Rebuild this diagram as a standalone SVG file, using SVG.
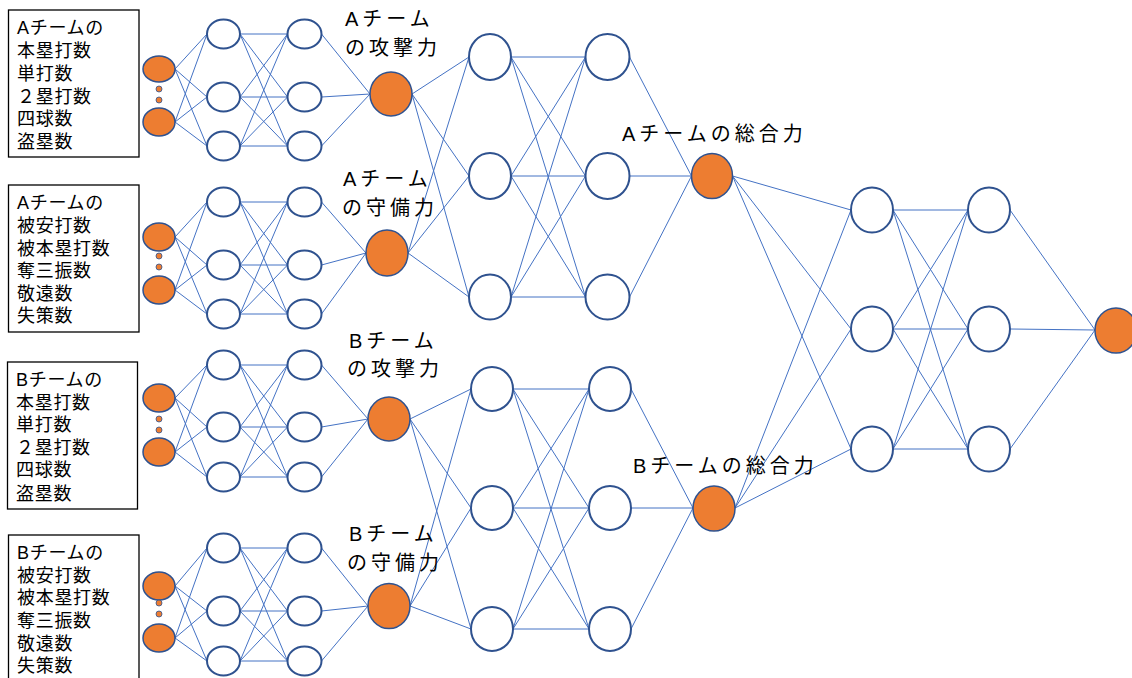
<svg xmlns="http://www.w3.org/2000/svg" width="1132" height="678" viewBox="0 0 1132 678">
<style>
.ln{fill:none;stroke:#4472C4;stroke-width:1}
.nd{fill:#fff;stroke:#2F528F;stroke-width:2}
.or{fill:#ED7D31;stroke:#2F528F;stroke-width:1.5}
.dot{fill:#ED7D31;stroke:#2F528F;stroke-width:0.8}
.box{fill:#fff;stroke:#000;stroke-width:1.3}
.bt{font-family:"Liberation Sans","Noto Sans CJK JP",sans-serif;font-size:18px;letter-spacing:0.7px;fill:#000}
.lb{font-family:"Liberation Sans","Noto Sans CJK JP",sans-serif;font-size:20px;letter-spacing:4px;fill:#000}
</style>
<rect width="1132" height="678" fill="#fff"/>
<g id="connectors">
<path class="ln" d="M175 69L207 34M175 69L207 97M175 69L207 146M175 122L207 34M175 122L207 97M175 122L207 146
M240 34L287.5 34M240 34L287.5 97M240 34L287.5 146M240 97L287.5 34M240 97L287.5 97M240 97L287.5 146M240 146L287.5 34M240 146L287.5 97M240 146L287.5 146
M321.5 34L370 94M321.5 97L370 94M321.5 146L370 94"/>
<path class="ln" d="M175 237L207 202M175 237L207 265M175 237L207 314M175 290L207 202M175 290L207 265M175 290L207 314
M240 202L287.5 202M240 202L287.5 265M240 202L287.5 314M240 265L287.5 202M240 265L287.5 265M240 265L287.5 314M240 314L287.5 202M240 314L287.5 265M240 314L287.5 314
M321.5 202L366 253M321.5 265L366 253M321.5 314L366 253"/>
<path class="ln" d="M175 398L207 365M175 398L207 427M175 398L207 477M175 452L207 365M175 452L207 427M175 452L207 477
M240 365L287.5 365M240 365L287.5 427M240 365L287.5 477M240 427L287.5 365M240 427L287.5 427M240 427L287.5 477M240 477L287.5 365M240 477L287.5 427M240 477L287.5 477
M321.5 365L368 419M321.5 427L368 419M321.5 477L368 419"/>
<path class="ln" d="M175 586L207 548M175 586L207 611M175 586L207 661M175 638L207 548M175 638L207 611M175 638L207 661
M240 548L287.5 548M240 548L287.5 611M240 548L287.5 661M240 611L287.5 548M240 611L287.5 611M240 611L287.5 661M240 661L287.5 548M240 661L287.5 611M240 661L287.5 661
M321.5 548L368 606M321.5 611L368 606M321.5 661L368 606"/>
<path class="ln" d="M412 94L469 57M412 94L469 176M412 94L469 297M408 253L469 57M408 253L469 176M408 253L469 297
M511 57L585.5 57M511 57L585.5 176M511 57L585.5 297M511 176L585.5 57M511 176L585.5 176M511 176L585.5 297M511 297L585.5 57M511 297L585.5 176M511 297L585.5 297
M629.5 57L691.5 176M629.5 176L691.5 176M629.5 297L691.5 176"/>
<path class="ln" d="M410 419L471 389M410 419L471 508M410 419L471 629M410 606L471 389M410 606L471 508M410 606L471 629
M513 389L589 389M513 389L589 508M513 389L589 629M513 508L589 389M513 508L589 508M513 508L589 629M513 629L589 389M513 629L589 508M513 629L589 629
M631 389L693 508M631 508L693 508M631 629L693 508"/>
<path class="ln" d="M732.5 176L851 210M732.5 176L851 329M732.5 176L851 449M735 508L851 210M735 508L851 329M735 508L851 449
M893 210L968 210M893 210L968 329M893 210L968 449M893 329L968 210M893 329L968 329M893 329L968 449M893 449L968 210M893 449L968 329M893 449L968 449
M1010 210L1095 330M1010 329L1095 330M1010 449L1095 330"/>
</g>
<g id="box-a-attack">
<rect class="box" x="8.5" y="10" width="130.5" height="147"/>
<text class="bt"><tspan x="17" y="33.5">Aチームの</tspan><tspan x="17" y="56.5">本塁打数</tspan><tspan x="17" y="79.5">単打数</tspan><tspan x="17" y="102.5">２塁打数</tspan><tspan x="17" y="125">四球数</tspan><tspan x="17" y="148">盗塁数</tspan></text>
</g>
<g id="box-a-defense">
<rect class="box" x="8.5" y="185" width="130.5" height="147"/>
<text class="bt"><tspan x="17" y="208.5">Aチームの</tspan><tspan x="17" y="231.5">被安打数</tspan><tspan x="17" y="254.5">被本塁打数</tspan><tspan x="17" y="277">奪三振数</tspan><tspan x="17" y="300">敬遠数</tspan><tspan x="17" y="322">失策数</tspan></text>
</g>
<g id="box-b-attack">
<rect class="box" x="7.5" y="362" width="130" height="147"/>
<text class="bt"><tspan x="16" y="385.5">Bチームの</tspan><tspan x="16" y="408.5">本塁打数</tspan><tspan x="16" y="430.5">単打数</tspan><tspan x="16" y="453.5">２塁打数</tspan><tspan x="16" y="475.5">四球数</tspan><tspan x="16" y="499.5">盗塁数</tspan></text>
</g>
<g id="box-b-defense">
<rect class="box" x="8.5" y="535" width="130.5" height="150"/>
<text class="bt"><tspan x="17" y="558.5">Bチームの</tspan><tspan x="17" y="581.5">被安打数</tspan><tspan x="17" y="603.5">被本塁打数</tspan><tspan x="17" y="626.5">奪三振数</tspan><tspan x="17" y="649.5">敬遠数</tspan><tspan x="17" y="671.5">失策数</tspan></text>
</g>
<g id="block-a-attack">
<ellipse class="or" cx="159" cy="69" rx="16" ry="13"/>
<ellipse class="or" cx="159" cy="122" rx="16" ry="14"/>
<circle class="dot" cx="159" cy="89" r="3"/><circle class="dot" cx="159" cy="100" r="3"/>
<ellipse class="nd" cx="223.5" cy="34" rx="16.5" ry="14.5"/>
<ellipse class="nd" cx="223.5" cy="97" rx="16.5" ry="14.5"/>
<ellipse class="nd" cx="223.5" cy="146" rx="16.5" ry="14.5"/>
<ellipse class="nd" cx="304.5" cy="34" rx="17" ry="14.5"/>
<ellipse class="nd" cx="304.5" cy="97" rx="17" ry="14.5"/>
<ellipse class="nd" cx="304.5" cy="146" rx="17" ry="14.5"/>
</g>
<g id="block-a-defense">
<ellipse class="or" cx="159" cy="237" rx="16" ry="14"/>
<ellipse class="or" cx="159" cy="290" rx="16" ry="14"/>
<circle class="dot" cx="159" cy="256" r="3"/><circle class="dot" cx="159" cy="267" r="3"/>
<ellipse class="nd" cx="223.5" cy="202" rx="16.5" ry="14.5"/>
<ellipse class="nd" cx="223.5" cy="265" rx="16.5" ry="14.5"/>
<ellipse class="nd" cx="223.5" cy="314" rx="16.5" ry="14.5"/>
<ellipse class="nd" cx="304.5" cy="202" rx="17" ry="14.5"/>
<ellipse class="nd" cx="304.5" cy="265" rx="17" ry="14.5"/>
<ellipse class="nd" cx="304.5" cy="314" rx="17" ry="14.5"/>
</g>
<g id="block-b-attack">
<ellipse class="or" cx="159" cy="398" rx="16" ry="14"/>
<ellipse class="or" cx="159" cy="452" rx="16" ry="14"/>
<circle class="dot" cx="159" cy="419" r="3"/><circle class="dot" cx="159" cy="430" r="3"/>
<ellipse class="nd" cx="223.5" cy="365" rx="16.5" ry="14.5"/>
<ellipse class="nd" cx="223.5" cy="427" rx="16.5" ry="14.5"/>
<ellipse class="nd" cx="223.5" cy="477" rx="16.5" ry="14.5"/>
<ellipse class="nd" cx="304.5" cy="365" rx="17" ry="14.5"/>
<ellipse class="nd" cx="304.5" cy="427" rx="17" ry="14.5"/>
<ellipse class="nd" cx="304.5" cy="477" rx="17" ry="14.5"/>
</g>
<g id="block-b-defense">
<ellipse class="or" cx="159" cy="586" rx="16" ry="14"/>
<ellipse class="or" cx="159" cy="638" rx="16" ry="14"/>
<circle class="dot" cx="159" cy="603" r="3"/><circle class="dot" cx="159" cy="614" r="3"/>
<ellipse class="nd" cx="223.5" cy="548" rx="16.5" ry="14.5"/>
<ellipse class="nd" cx="223.5" cy="611" rx="16.5" ry="14.5"/>
<ellipse class="nd" cx="223.5" cy="661" rx="16.5" ry="14.5"/>
<ellipse class="nd" cx="304.5" cy="548" rx="17" ry="14.5"/>
<ellipse class="nd" cx="304.5" cy="611" rx="17" ry="14.5"/>
<ellipse class="nd" cx="304.5" cy="661" rx="17" ry="14.5"/>
</g>
<g id="a-attack">
<ellipse class="or" cx="391" cy="94" rx="21" ry="22"/>
<text class="lb"><tspan x="345" y="25.5">Aチーム</tspan><tspan x="345" y="54.5">の攻撃力</tspan></text>
</g>
<g id="a-defense">
<ellipse class="or" cx="387" cy="253" rx="21" ry="23"/>
<text class="lb"><tspan x="343" y="185.5">Aチーム</tspan><tspan x="342" y="214.5">の守備力</tspan></text>
</g>
<g id="b-attack">
<ellipse class="or" cx="389" cy="419" rx="21" ry="22"/>
<text class="lb"><tspan x="349" y="347.5">Bチーム</tspan><tspan x="347" y="375.5">の攻撃力</tspan></text>
</g>
<g id="b-defense">
<ellipse class="or" cx="389" cy="606" rx="21" ry="22.5"/>
<text class="lb"><tspan x="349" y="540.5">Bチーム</tspan><tspan x="347" y="569.5">の守備力</tspan></text>
</g>
<g id="a-mid">
<ellipse class="nd" cx="490" cy="57" rx="21" ry="23"/>
<ellipse class="nd" cx="490" cy="176" rx="21" ry="23"/>
<ellipse class="nd" cx="490" cy="297" rx="21" ry="22.5"/>
<ellipse class="nd" cx="607.5" cy="57" rx="22" ry="23"/>
<ellipse class="nd" cx="607.5" cy="176" rx="22" ry="23"/>
<ellipse class="nd" cx="607.5" cy="297" rx="22" ry="22.5"/>
</g>
<g id="b-mid">
<ellipse class="nd" cx="492" cy="389" rx="21" ry="22"/>
<ellipse class="nd" cx="492" cy="508" rx="21" ry="22"/>
<ellipse class="nd" cx="492" cy="629" rx="21" ry="22"/>
<ellipse class="nd" cx="610" cy="389" rx="21" ry="22"/>
<ellipse class="nd" cx="610" cy="508" rx="21" ry="22"/>
<ellipse class="nd" cx="610" cy="629" rx="21" ry="22"/>
</g>
<g id="a-total">
<ellipse class="or" cx="712" cy="176" rx="20.5" ry="22.5"/>
<text class="lb" x="622" y="140.5">Aチームの総合力</text>
</g>
<g id="b-total">
<ellipse class="or" cx="714" cy="508.5" rx="21" ry="22.5"/>
<text class="lb" x="633" y="472.5">Bチームの総合力</text>
</g>
<g id="final-layers">
<ellipse class="nd" cx="872" cy="210" rx="21" ry="22.5"/>
<ellipse class="nd" cx="872" cy="329" rx="21" ry="22.5"/>
<ellipse class="nd" cx="872" cy="449" rx="21" ry="22.5"/>
<ellipse class="nd" cx="989" cy="210" rx="21" ry="22.5"/>
<ellipse class="nd" cx="989" cy="329" rx="21" ry="22.5"/>
<ellipse class="nd" cx="989" cy="449" rx="21" ry="22.5"/>
</g>
<g id="output">
<ellipse class="or" cx="1116" cy="330.5" rx="21" ry="22.5"/>
</g>
</svg>
